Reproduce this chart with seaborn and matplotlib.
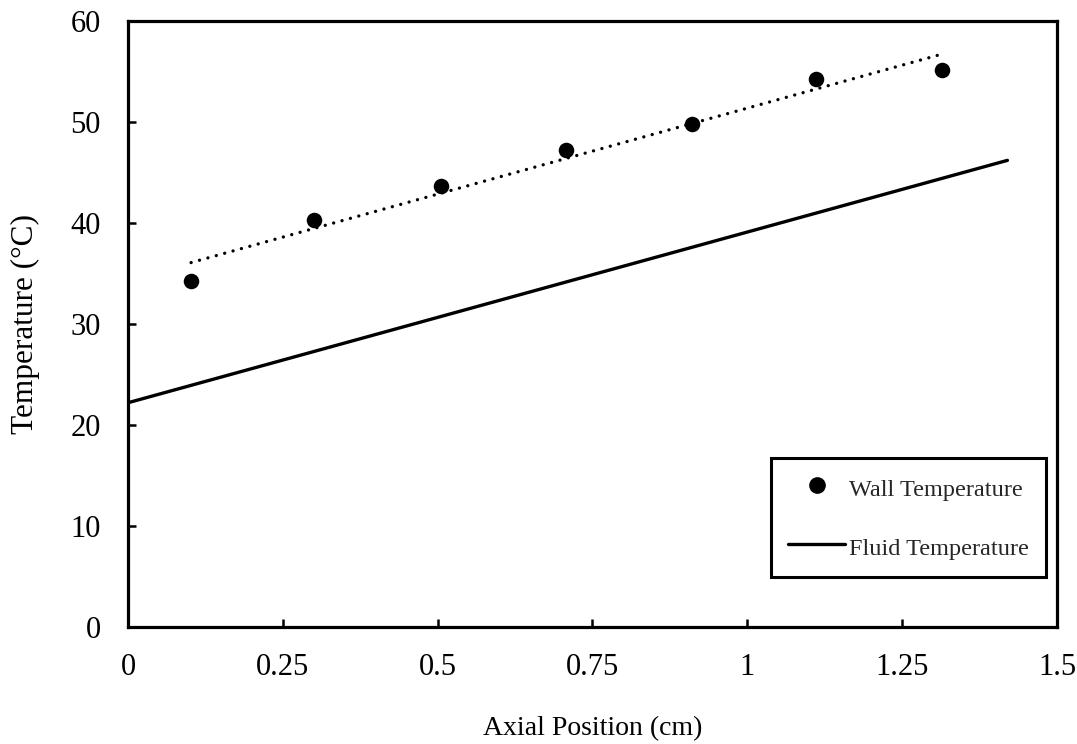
import numpy as np
import pandas as pd
import matplotlib
matplotlib.use("Agg")
import matplotlib.pyplot as plt
import seaborn as sns
from matplotlib.lines import Line2D

# Data
wall_x = [0.102, 0.300, 0.505, 0.708, 0.910, 1.111, 1.315]
wall_y = [34.3, 40.3, 43.7, 47.2, 49.8, 54.3, 55.1]
fluid_x = [0.0, 1.42]
fluid_y = [22.2, 46.2]
x_ticks = [0, 0.25, 0.5, 0.75, 1, 1.25, 1.5]
x_tick_labels = ["0", "0.25", "0.5", "0.75", "1", "1.25", "1.5"]
y_ticks = [0, 10, 20, 30, 40, 50, 60]

sns.set_theme(style="white")
plt.rcParams['font.family'] = ['Liberation Serif', 'DejaVu Serif']

wall = pd.DataFrame({"x": wall_x, "y": wall_y})
fluid = pd.DataFrame({"x": fluid_x, "y": fluid_y})

fig = plt.figure(figsize=(10.77, 7.44), dpi=100)
ax = fig.add_axes([0.1188, 0.1573, 0.8626, 0.8145])

# trend line (linear fit of wall temperatures)
sns.regplot(data=wall, x="x", y="y", scatter=False, ci=None, ax=ax,
            line_kws=dict(color="black", linestyle=(0, (0.01, 2.6)), linewidth=2.4,
                          dash_capstyle="round", label="_nolegend_"))
sns.lineplot(data=fluid, x="x", y="y", ax=ax, color="black", linewidth=2.4,
             label="_nolegend_")
sns.scatterplot(data=wall, x="x", y="y", ax=ax, color="black", s=125,
                edgecolor="black", linewidth=0, zorder=5, label="_nolegend_")

ax.set_xlim(0, 1.5)
ax.set_ylim(0, 60)
ax.set_xticks(x_ticks)
ax.set_xticklabels(x_tick_labels)
ax.set_yticks(y_ticks)

for s in ax.spines.values():
    s.set_linewidth(2.3)
    s.set_color("black")
    s.set_visible(True)

ax.tick_params(axis="both", direction="in", length=6, width=1.8, colors="black",
               labelsize=22)
ax.tick_params(axis="x", pad=19, bottom=True)
ax.tick_params(axis="y", pad=19.5, left=True)

ax.set_xlabel("Axial Position (cm)", fontsize=20, labelpad=24, color="black")
ax.set_ylabel("Temperature (\u00b0C)", fontsize=22.5, labelpad=22, color="black")

handles = [
    Line2D([], [], marker="o", linestyle="none", color="black", markersize=11),
    Line2D([], [], color="black", linewidth=2.4),
]
leg = ax.legend(handles, ["Wall Temperature", "Fluid Temperature"],
                loc="lower right", bbox_to_anchor=(0.988, 0.082),
                prop={"size": 17.5}, frameon=True, fancybox=False, framealpha=1,
                borderpad=0.7, labelspacing=1.34, handlelength=2.35,
                handleheight=1.3, handletextpad=0.15, borderaxespad=0)
leg.get_frame().set_edgecolor("black")
leg.get_frame().set_linewidth(2.2)

fig.savefig("out.png", dpi=100)
